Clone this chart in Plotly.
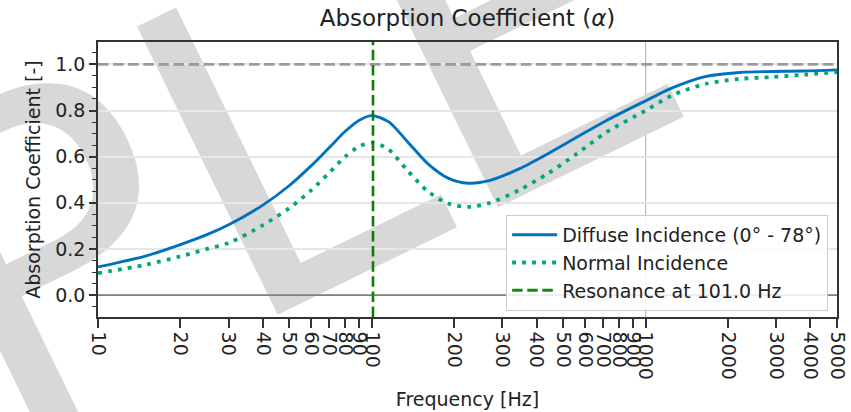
import math
import plotly.graph_objects as go

# ---------------- data ----------------
freq_hz = [10, 15, 20, 25, 30, 40, 50, 60, 70, 80, 90, 100, 115, 135, 160, 190, 225,
           270, 345, 440, 560, 720, 1000, 1250, 1650, 2200, 2900, 3800, 5000]
alpha_diffuse = [0.122, 0.170, 0.219, 0.262, 0.305, 0.390, 0.475, 0.560, 0.640, 0.710,
                 0.758, 0.778, 0.752, 0.665, 0.570, 0.507, 0.485, 0.497, 0.547, 0.613,
                 0.684, 0.757, 0.842, 0.898, 0.947, 0.965, 0.969, 0.971, 0.976]
alpha_normal = [0.095, 0.132, 0.168, 0.200, 0.226, 0.303, 0.377, 0.454, 0.531, 0.600,
                0.645, 0.661, 0.632, 0.540, 0.450, 0.397, 0.382, 0.400, 0.455, 0.527,
                0.612, 0.706, 0.800, 0.866, 0.915, 0.937, 0.945, 0.955, 0.967]
resonance_hz = 101.0

x_tick_vals = [10, 20, 30, 40, 50, 60, 70, 80, 90, 100, 200, 300, 400, 500, 600, 700,
               800, 900, 1000, 2000, 3000, 4000, 5000]
x_tick_text = [str(v) for v in x_tick_vals]
y_tick_vals = [0.0, 0.2, 0.4, 0.6, 0.8, 1.0]
y_tick_text = ["0.0", "0.2", "0.4", "0.6", "0.8", "1.0"]
x_range = [10, 5000]
y_range = [-0.095, 1.097]

FONT = "DejaVu Sans"
TXT = "#222222"
DASH = "10.5px,4.6px"

fig = go.Figure()

fig.add_trace(go.Scatter(
    x=freq_hz, y=alpha_diffuse, mode="lines", name="Diffuse Incidence (0° - 78°)",
    line=dict(color="#0072BD", width=2.9, shape="spline", smoothing=0.8),
    legendgroup="a"))
fig.add_trace(go.Scatter(
    x=freq_hz, y=alpha_normal, mode="lines", name="Normal Incidence",
    line=dict(color="#00A877", width=3.8, dash="3.8px,6.2px", shape="spline", smoothing=0.8),
    legendgroup="b"))
# legend entry for the resonance line (line itself is a shape)
fig.add_trace(go.Scatter(
    x=[None], y=[None], mode="lines", name=f"Resonance at {resonance_hz:.1f} Hz",
    line=dict(color="#138a13", width=2.9, dash=DASH), legendgroup="c"))

# reference lines
fig.add_shape(type="line", xref="x", yref="y", x0=x_range[0], x1=x_range[1], y0=1.0, y1=1.0,
              line=dict(color="rgba(128,128,128,0.75)", width=2.8, dash=DASH), layer="between")
fig.add_shape(type="line", xref="x", yref="y", x0=x_range[0], x1=x_range[1], y0=0.0, y1=0.0,
              line=dict(color="rgba(110,110,110,0.85)", width=1.9), layer="between")
fig.add_shape(type="line", xref="x", yref="paper", x0=1000, x1=1000, y0=0, y1=1,
              line=dict(color="#bdbdbd", width=1.3), layer="between")
fig.add_shape(type="line", xref="x", yref="paper", x0=resonance_hz, x1=resonance_hz, y0=0, y1=1,
              line=dict(color="#0a7f0a", width=2.6, dash=DASH), layer="above")

# watermark (behind everything)
fig.add_shape(type="rect", xref="paper", yref="paper", x0=-0.3515, x1=-0.3495, y0=-0.0265, y1=-0.0245,
              line=dict(width=0), fillcolor="rgba(0,0,0,0)", layer="below",
              label=dict(text="SAMPLE", textposition="middle center", textangle=-26,
                         font=dict(family=FONT, size=440, color="#d8d8d8")))

axis_common = dict(
    showline=True, linecolor="#333333", linewidth=1.5, mirror=True,
    ticks="outside", tickcolor="#333333", tickwidth=1.5,
    tickfont=dict(family=FONT, size=19, color=TXT),
    title_font=dict(family=FONT, size=19, color=TXT),
    zeroline=False,
)

fig.update_xaxes(
    type="log", range=[math.log10(x_range[0]), math.log10(x_range[1])],
    tickmode="array", tickvals=x_tick_vals, ticktext=x_tick_text, tickangle=90,
    ticklen=9, showgrid=False, title_text="Frequency [Hz]", title_standoff=14,
    automargin=False, **axis_common)
fig.update_yaxes(
    range=y_range, tickmode="array", tickvals=y_tick_vals, ticktext=y_tick_text,
    ticklen=7, showgrid=True, gridcolor="#e6e6e6", gridwidth=2.2,
    minor=dict(tickmode="linear", tick0=0, dtick=0.05, ticks="outside", ticklen=4,
               tickcolor="#333333", tickwidth=1.2, showgrid=False),
    title_text="Absorption Coefficient [-]", title_standoff=10,
    automargin=False, **axis_common)

fig.update_layout(
    width=851, height=412,
    margin=dict(l=98, r=14, t=42, b=95),
    paper_bgcolor="white", plot_bgcolor="rgba(0,0,0,0)",
    title=dict(text="Absorption Coefficient (<i>α</i>)", x=0.5, xref="paper",
               y=1 - 18 / 412, yref="container", yanchor="middle",
               font=dict(family=FONT, size=23, color=TXT)),
    legend=dict(x=0.988, y=0.022, xanchor="right", yanchor="bottom",
                bgcolor="rgba(255,255,255,0.85)", bordercolor="#cccccc", borderwidth=1,
                font=dict(family=FONT, size=19, color=TXT), tracegroupgap=0,
                itemwidth=45),
    showlegend=True,
)

fig.write_html("out.html")
